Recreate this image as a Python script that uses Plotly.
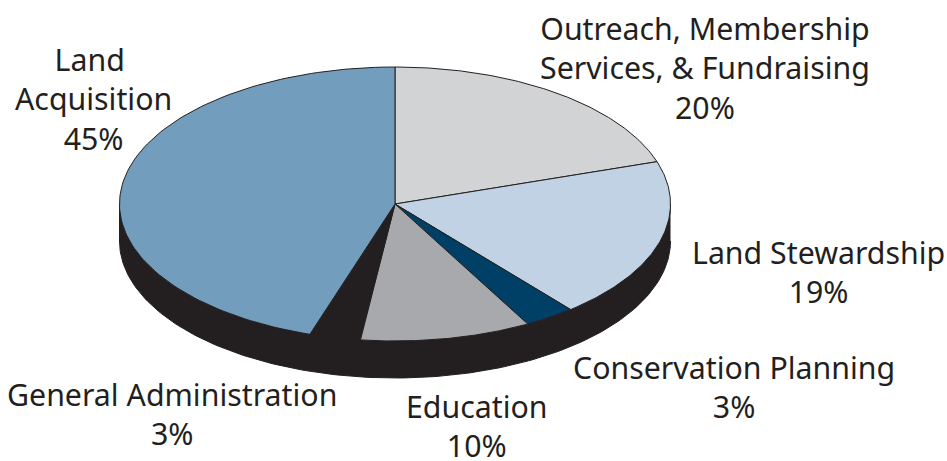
import numpy as np
import plotly.graph_objects as go

categories = ["Outreach, Membership<br>Services, & Fundraising", "Land Stewardship", "Conservation Planning",
              "Education", "General Administration", "Land Acquisition"]
values = [20, 19, 3, 10, 3, 45]
colors = ["#d1d3d4", "#c0d2e3", "#003f66", "#a7a9ac", "#231f20", "#729dbd"]
label_text = ["Outreach, Membership<br>Services, & Fundraising<br>20%", "Land Stewardship<br>19%",
              "Conservation Planning<br>3%", "Education<br>10%", "General Administration<br>3%",
              "Land\u00a0<br>Acquisition<br>45%"]
label_x = [705, 818, 734, 477, 172, 93]
label_y = [68, 272, 387, 426, 414, 99]

CX, CY, RX, RY, DEPTH = 395, 204, 275.5, 137, 37
side = "#231f20"

fig = go.Figure()

# extruded rim
t = np.radians(np.linspace(90, 270, 181))
xs = CX + RX * np.sin(t)
ys = CY - RY * np.cos(t)
fig.add_trace(go.Scatter(
    x=np.r_[xs, xs[::-1]], y=np.r_[ys, ys[::-1] + DEPTH],
    mode="lines", fill="toself", fillcolor=side, line=dict(color=side, width=1),
    hoverinfo="skip", showlegend=False))

# top-face slices
cum = np.cumsum([0] + values) / sum(values) * 360
for i, name in enumerate(categories):
    t = np.radians(np.linspace(cum[i], cum[i + 1], 120))
    x = np.r_[CX, CX + RX * np.sin(t), CX]
    y = np.r_[CY, CY - RY * np.cos(t), CY]
    fig.add_trace(go.Scatter(
        x=x, y=y, mode="lines", fill="toself", fillcolor=colors[i],
        line=dict(color="#231f20", width=1), name=name, showlegend=False,
        hoverinfo="name"))

for txt, lx, ly in zip(label_text, label_x, label_y):
    fig.add_annotation(x=lx, y=ly, text=txt, showarrow=False, xanchor="center", yanchor="middle",
                       align="center", font=dict(family="Noto Sans", size=30.3, color="#231f20"))

fig.update_layout(
    width=947, height=461, margin=dict(l=0, r=0, t=0, b=0),
    paper_bgcolor="white", plot_bgcolor="white",
    xaxis=dict(range=[0, 947], visible=False, fixedrange=True),
    yaxis=dict(range=[461, 0], visible=False, fixedrange=True),
)
fig.write_html("out.html", config={"displayModeBar": False},
               post_script="document.body.style.margin='0';document.body.style.overflow='hidden';")
